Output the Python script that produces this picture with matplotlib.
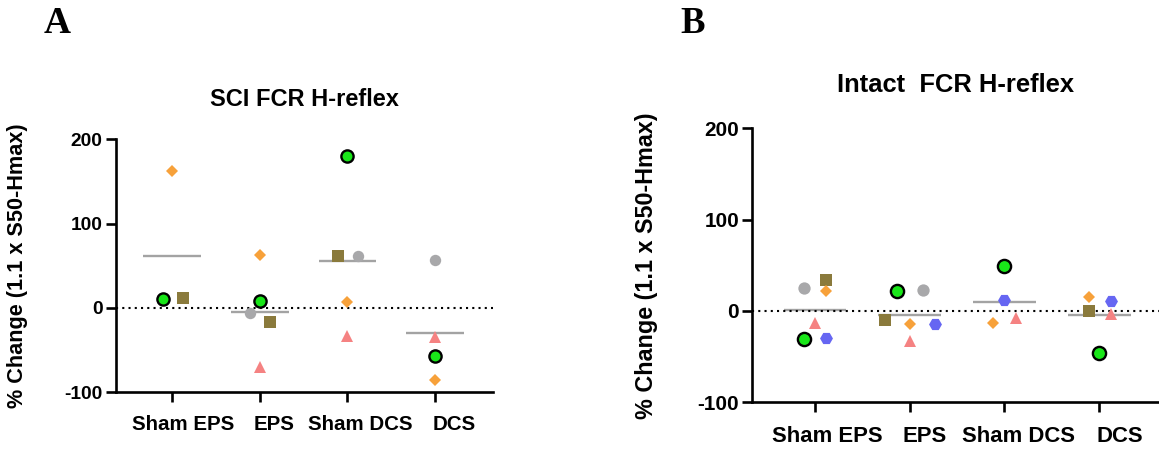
import numpy as np
import matplotlib
matplotlib.use("Agg")
import matplotlib.pyplot as plt
from matplotlib.transforms import ScaledTranslation, blended_transform_factory

plt.rcParams['font.family'] = ['Liberation Sans', 'DejaVu Sans']
plt.rcParams['font.weight'] = 'bold'

groups = ["Sham EPS", "EPS", "Sham DCS", "DCS"]
nan = np.nan

# SCI animals, % change per group
sci_diamond = [162.5, 62.7, 6.7, -85.6]
sci_green = [10.6, 7.9, 180.3, -56.4]
sci_square = [11.8, -17.0, 61.1, nan]
sci_gray = [nan, -5.9, 61.1, 57.2]
sci_triangle = [nan, -69.8, -33.5, -34.7]

# Intact animals, % change per group
int_green = [-30.3, 21.9, 49.4, -46.1]
int_gray = [24.9, 23.4, nan, nan]
int_square = [34.4, -10.2, nan, -0.4]
int_diamond = [21.6, -14.3, -13.2, 15.4]
int_triangle = [-13.2, -32.9, -7.7, -2.9]
int_blue = [-29.3, -14.3, 12.4, 10.6]

yticks = [-100, 0, 100, 200]

# marker styles: (marker, size, face, edge, edge width)
STYLES = {
    "green": ("o", 8.8, "#19e619", "black", 1.7),
    "gray": ("o", 8.2, "#a8a8aa", "none", 0),
    "square": ("s", 8.0, "#8a7a3c", "none", 0),
    "diamond": ("D", 6.0, "#f7a13a", "none", 0),
    "triangle": ("^", 8.4, "#f58282", "none", 0),
    "blue": ("H", 8.6, "#6666f2", "none", 0),
}

# horizontal scatter within each column
sci_series = [
    ("diamond", sci_diamond, [0, 0, 0, 0]),
    ("square", sci_square, [0.12, 0.12, -0.11, 0]),
    ("gray", sci_gray, [0, -0.11, 0.12, 0]),
    ("triangle", sci_triangle, [0, 0, 0, 0]),
    ("green", sci_green, [-0.11, 0, 0, 0]),
]
int_series = [
    ("gray", int_gray, [-0.11, 0.14, 0, 0]),
    ("square", int_square, [0.12, -0.26, 0, -0.11]),
    ("diamond", int_diamond, [0.12, 0, -0.12, -0.11]),
    ("triangle", int_triangle, [0, 0, 0.12, 0.12]),
    ("blue", int_blue, [0.12, 0.27, 0, 0.12]),
    ("green", int_green, [-0.11, -0.13, 0, 0]),
]


def draw_panel(ax, series, title, xlim, scale, label_dx, label_dy):
    x = np.arange(len(groups))
    vals = np.array([s[1] for s in series], dtype=float)
    means = np.nanmean(vals, axis=0)

    ax.axhline(0, color="black", lw=1.5, ls=(0, (1, 2)), zorder=3)
    for xi, m in zip(x, means):
        ax.plot([xi - 0.33, xi + 0.33], [m, m], color="#a3a3a3", lw=1.7,
                solid_capstyle="butt", zorder=2)

    for name, v, off in series:
        mk, ms, fc, ec, mew = STYLES[name]
        ax.plot(x + np.array(off), v, ls="none", marker=mk, ms=ms * scale,
                mfc=fc, mec=ec, mew=mew, zorder=4)

    ax.set_xlim(*xlim)
    ax.set_ylim(-100, 200)
    ax.set_yticks(yticks)
    ax.set_yticklabels([str(t) for t in yticks], fontsize=13.8 * scale)
    ax.set_xticks(x)
    ax.set_xticklabels([])

    # group names sit a little right of their ticks
    base = blended_transform_factory(ax.transData, ax.transAxes)
    for xi, g, dx in zip(x, groups, label_dx):
        tr = base + ScaledTranslation(dx / 100, -label_dy / 100,
                                      ax.figure.dpi_scale_trans)
        ax.text(xi, 0, g, transform=tr, ha="center", va="top",
                fontsize=14.8 * scale, fontweight="bold")

    for side in ("top", "right"):
        ax.spines[side].set_visible(False)
    for side in ("left", "bottom"):
        ax.spines[side].set_linewidth(1.9)
    ax.tick_params(axis="both", width=1.9, length=7.5)
    ax.tick_params(axis="y", pad=2)

    ax.set_ylabel("% Change (1.1 x S50-Hmax)", fontsize=15.6 * scale,
                  fontweight="bold")
    ax.yaxis.set_label_coords(-0.232, 0.5)
    ax.set_title(title, fontsize=17 * scale, fontweight="bold", pad=24 * scale)


fig = plt.figure(figsize=(11.59, 4.51), dpi=100)

ax_a = fig.add_axes([0.0998, 0.1302, 0.3255, 0.561])
draw_panel(ax_a, sci_series, "SCI FCR H-reflex", (-0.645, 3.66), 1.0,
           [11, 14, 13, 19], 22.5)

ax_b = fig.add_axes([0.6491, 0.108, 0.3509, 0.6075])
draw_panel(ax_b, int_series, "Intact  FCR H-reflex", (-0.66, 3.63), 1.08,
           [12, 15, 14, 21], 24)

fig.text(44 / 1159, 1 - 33.3 / 451, "A", fontsize=27, fontweight="bold",
         family="Liberation Serif", va="baseline")
fig.text(680 / 1159, 1 - 33.3 / 451, "B", fontsize=26.5, fontweight="bold",
         family="Liberation Serif", va="baseline")

fig.savefig("out.png", dpi=100)
